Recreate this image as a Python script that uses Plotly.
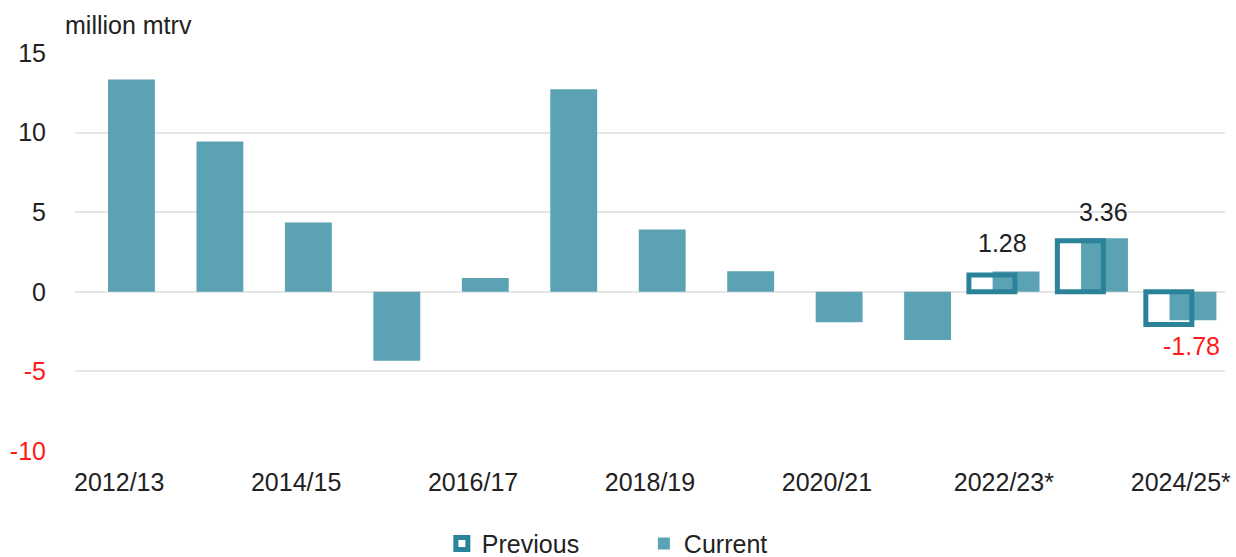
import plotly.graph_objects as go

categories = ["2012/13", "2013/14", "2014/15", "2015/16", "2016/17", "2017/18", "2018/19",
              "2019/20", "2020/21", "2021/22", "2022/23*", "2023/24*", "2024/25*"]
current = [13.34, 9.44, 4.36, -4.33, 0.86, 12.73, 3.92, 1.29, -1.91, -3.02, 1.28, 3.36, -1.78]
previous_categories = ["2022/23*", "2023/24*", "2024/25*"]
previous = [1.05, 3.2, -2.05]
label_categories = ["2022/23*", "2023/24*", "2024/25*"]
label_values = [1.28, 3.36, -1.78]
y_tickvals = [-10, -5, 0, 5, 10, 15]
x_tickvals = categories[::2]

CUR = "#5BA2B4"
PREV = "#2A8398"
TXT = "#222222"
RED = "#FF1A1A"
FONT = "Liberation Sans, Arial, sans-serif"

fig = go.Figure()
fig.add_trace(go.Bar(
    x=categories, y=current, name="Current",
    marker=dict(color=CUR, line=dict(width=0)),
    width=0.53, offset=-0.127, legendrank=2,
))
fig.add_trace(go.Bar(
    x=previous_categories, y=previous, name="Previous",
    marker=dict(color="rgba(0,0,0,0)", line=dict(color=PREV, width=5)),
    width=0.52, offset=-0.395, legendrank=1,
))

xshifts = [-1, 11, 11]
yshifts = [28, 26, -26]
for c, v, xs, ys in zip(label_categories, label_values, xshifts, yshifts):
    fig.add_annotation(
        x=c, y=v, text=f"{v:.2f}", showarrow=False,
        xshift=xs, yshift=ys, yanchor="middle",
        font=dict(size=25, color=RED if v < 0 else TXT, family=FONT),
    )

fig.add_annotation(
    xref="paper", yref="paper", x=0, y=1, xanchor="left", yanchor="middle",
    xshift=-12, yshift=28, text="million mtrv", showarrow=False,
    font=dict(size=25, color=TXT, family=FONT),
)

y_ticktext = [f'<span style="color:{RED}">{v}</span>' if v < 0 else str(v) for v in y_tickvals]

fig.update_layout(
    width=1236, height=557,
    margin=dict(l=75, r=5, t=53, b=106),
    paper_bgcolor="white", plot_bgcolor="white",
    barmode="overlay",
    font=dict(family=FONT, size=25, color=TXT),
    showlegend=True,
    legend=dict(
        orientation="h", xref="container", yref="container",
        x=0.3575, y=0.024, xanchor="left", yanchor="middle",
        font=dict(size=25, color=TXT, family=FONT),
        entrywidth=157, entrywidthmode="pixels",
        itemclick=False,
    ),
    xaxis=dict(
        type="category", categoryorder="array", categoryarray=categories,
        range=[-0.5, 12.5], tickmode="array", tickvals=x_tickvals, ticktext=x_tickvals,
        showgrid=False, showline=False, zeroline=False,
        ticks="", ticklabelstandoff=14,
        tickfont=dict(size=25, color=TXT, family=FONT),
    ),
    yaxis=dict(
        range=[-10, 15], tickmode="array", tickvals=y_tickvals, ticktext=y_ticktext,
        showgrid=True, gridcolor="#E6E6E6", gridwidth=1.5,
        zeroline=False, showline=False, ticks="", ticklabelstandoff=28,
        tickfont=dict(size=25, color=TXT, family=FONT),
    ),
)

fig.write_html(
    "out.html",
    config={"displayModeBar": False},
    post_script="document.body.style.margin='0';document.body.style.overflow='hidden';",
)
